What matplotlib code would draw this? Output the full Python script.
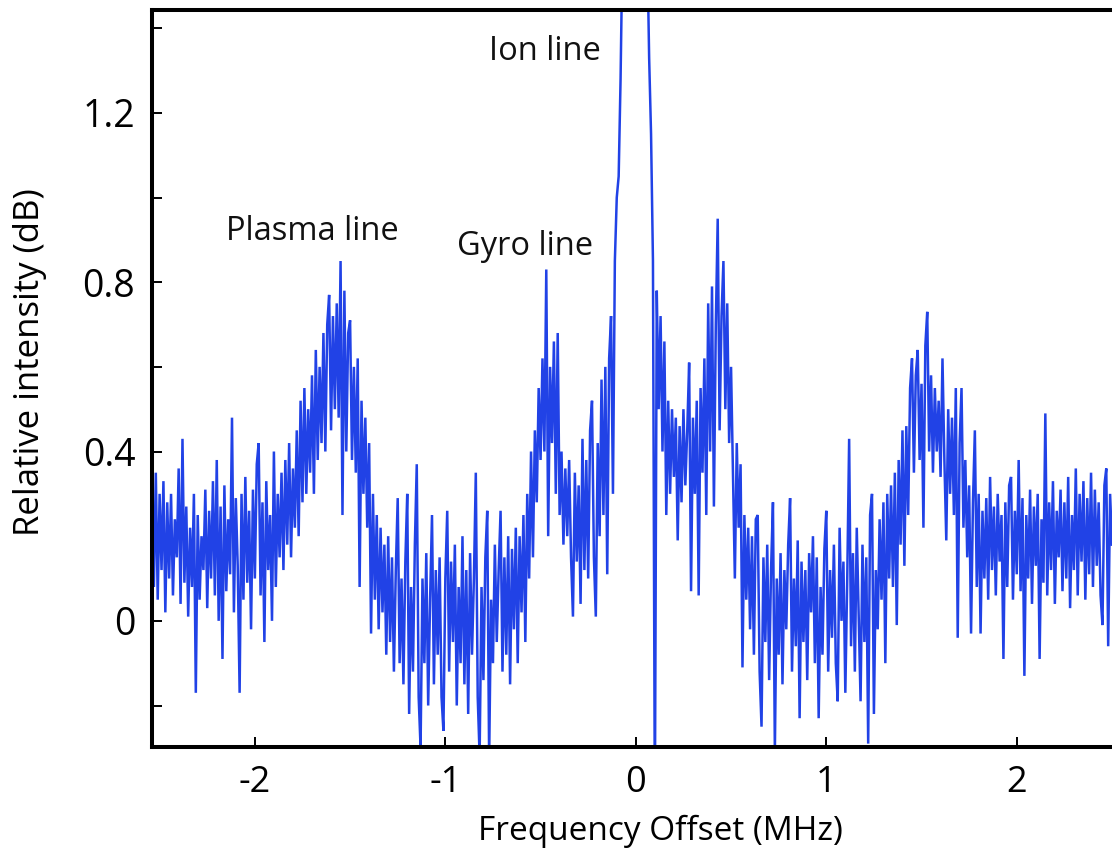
import numpy as np
import matplotlib
matplotlib.use("Agg")
import matplotlib.pyplot as plt

plt.rcParams['font.family'] = ['Open Sans', 'DejaVu Sans']

STEP = 0.01  # MHz sampling of the spectrum

# Relative intensity (dB), in segments; each segment starts at seg_start
seg_left_start = -2.54
seg_left = [0.32, 0.08, 0.35, 0.05, 0.30, 0.12, 0.33, 0.02, 0.28, 0.10,
            0.30, 0.06, 0.24, 0.15, 0.36, 0.04, 0.43, 0.09, 0.27, 0.01,
            0.22, 0.08, 0.30, -0.17, 0.25, 0.05, 0.20, 0.12, 0.31, 0.03,
            0.26, 0.10, 0.33, 0.06, 0.38, 0.00, 0.27, -0.09, 0.32, 0.07,
            0.24, 0.11, 0.48, 0.02, 0.29, 0.13, -0.17, 0.30, 0.05, 0.34,
            0.09, 0.26, -0.02, 0.31, 0.10, 0.37, 0.42, 0.06, 0.28, -0.05,
            0.33, 0.12, 0.25, 0.00, 0.40, 0.08, 0.30, 0.15, 0.35]

seg_plasma_neg_start = -1.85
seg_plasma_neg = [0.12, 0.38, 0.18, 0.42, 0.15, 0.36, 0.22, 0.45, 0.20, 0.52,
                  0.28, 0.55, 0.30, 0.50, 0.35, 0.58, 0.30, 0.64, 0.38, 0.60,
                  0.42, 0.68, 0.40, 0.70, 0.77, 0.45, 0.72, 0.50, 0.75, 0.48,
                  0.85, 0.25, 0.78, 0.40, 0.68, 0.71, 0.38, 0.60, 0.35, 0.62,
                  0.08, 0.52, 0.30, 0.48, 0.22, 0.42]

seg_trough_neg_start = -1.39
seg_trough_neg = [-0.03, 0.30, 0.05, 0.25, -0.02, 0.22, 0.02, 0.18, -0.08, 0.20,
                  -0.05, 0.15, -0.12, 0.12, 0.29, -0.10, 0.10, -0.15, 0.14, 0.30,
                  -0.22, 0.08, -0.12, 0.18, 0.37, -0.18, -0.30, 0.10, -0.10, 0.16,
                  -0.20, 0.05, 0.25, -0.15, 0.12, -0.08, 0.15, -0.18, -0.26, 0.10,
                  0.26, -0.12, 0.14, -0.05, 0.18, -0.20, 0.08, -0.10, 0.20, -0.15,
                  0.12, -0.22, 0.16, -0.08, 0.10, 0.35, -0.18, -0.32, 0.08, -0.14,
                  0.15, 0.26, -0.33, 0.05, -0.10, 0.18, -0.05, 0.12, 0.26, -0.12,
                  0.15, -0.08, 0.20, -0.15, 0.17, -0.02, 0.22, -0.10, 0.20, 0.02,
                  0.25, -0.05, 0.30, 0.10, 0.40]

seg_gyro_neg_start = -0.54
seg_gyro_neg = [0.15, 0.45, 0.28, 0.55, 0.38, 0.62, 0.40, 0.83, 0.20, 0.60,
                0.42, 0.66, 0.30, 0.68, 0.25, 0.40, 0.18, 0.36, 0.20, 0.38,
                0.15, 0.01, 0.35, 0.14, 0.32, 0.04, 0.43, 0.12, 0.38, 0.10,
                0.45, 0.52, 0.15, 0.01, 0.42, 0.20, 0.57, 0.25, 0.60, 0.11]

seg_ion_start = -0.14
seg_ion = [0.62, 0.72, 0.30, 0.85, 1.00, 1.05, 1.28, 1.60, 1.90, 2.20,
           2.40, 2.30, 2.10, 2.00, 2.00, 2.10, 2.30, 2.40, 2.20, 1.90,
           1.60, 1.33, 1.15, 0.85, -0.45]

seg_gyro_pos_start = 0.11
seg_gyro_pos = [0.78, 0.50, 0.72, 0.40, 0.66, 0.25, 0.52, 0.30, 0.50, 0.34,
                0.48, 0.19, 0.46, 0.28, 0.50, 0.32, 0.45, 0.61, 0.07, 0.48,
                0.30, 0.52, 0.06, 0.55, 0.35, 0.62, 0.25, 0.75, 0.40, 0.79,
                0.27, 0.70, 0.95, 0.45, 0.72, 0.85, 0.50, 0.75, 0.42, 0.60,
                0.35, 0.10, 0.42, 0.22, 0.37, -0.11, 0.25, 0.05, 0.22, -0.02]

seg_trough_pos_start = 0.61
seg_trough_pos = [0.20, -0.08, 0.24, 0.25, -0.12, -0.25, 0.15, -0.05, 0.18, -0.14,
                  0.12, 0.28, -0.31, 0.10, -0.08, 0.16, -0.15, 0.12, -0.02, 0.18,
                  0.29, -0.12, 0.10, -0.06, 0.19, -0.23, 0.14, -0.05, 0.12, -0.14,
                  0.16, 0.02, 0.20, -0.10, 0.15, -0.23, 0.08, -0.08, 0.17, 0.26,
                  -0.12, 0.12, -0.04, 0.18, -0.10, -0.19, 0.22, 0.00, 0.14, -0.17,
                  0.10, 0.43, -0.06, 0.16, -0.12, 0.22, 0.02, -0.19, 0.18, -0.05,
                  0.15, -0.29, 0.25, 0.30, -0.22, 0.12, -0.02, 0.24, 0.05, 0.28]

seg_plasma_pos_start = 1.31
seg_plasma_pos = [-0.10, 0.30, 0.10, 0.32, 0.08, 0.35, -0.01, 0.38, 0.18, 0.45,
                  0.13, 0.46, 0.25, 0.55, 0.62, 0.35, 0.58, 0.64, 0.38, 0.56,
                  0.22, 0.65, 0.73, 0.40, 0.58, 0.35, 0.55, 0.40, 0.52, 0.34,
                  0.62, 0.38, 0.19, 0.50, 0.30, 0.48, 0.25, 0.55, -0.04, 0.42,
                  0.55, 0.22, 0.38, 0.15, 0.32]

seg_right_start = 1.76
seg_right = [-0.03, 0.28, 0.45, 0.08, 0.30, -0.03, 0.26, 0.10, 0.29, 0.05,
             0.34, 0.12, 0.27, 0.06, 0.30, 0.14, 0.25, -0.09, 0.28, 0.08,
             0.32, 0.34, 0.05, 0.26, 0.11, 0.38, 0.07, 0.29, -0.13, 0.25,
             0.10, 0.31, 0.04, 0.27, 0.13, 0.30, -0.09, 0.24, 0.09, 0.49,
             0.06, 0.28, 0.12, 0.33, 0.04, 0.26, 0.15, 0.31, 0.07, 0.28,
             0.10, 0.34, 0.03, 0.25, 0.12, 0.36, 0.06, 0.30, 0.14, 0.33,
             0.05, 0.29, 0.11, 0.35, 0.08, 0.31, 0.13, 0.28, 0.06, -0.01,
             0.32, 0.36, -0.06, 0.30, 0.18]

segments = [(seg_left_start, seg_left), (seg_plasma_neg_start, seg_plasma_neg),
            (seg_trough_neg_start, seg_trough_neg), (seg_gyro_neg_start, seg_gyro_neg),
            (seg_ion_start, seg_ion), (seg_gyro_pos_start, seg_gyro_pos),
            (seg_trough_pos_start, seg_trough_pos), (seg_plasma_pos_start, seg_plasma_pos),
            (seg_right_start, seg_right)]

freq = np.concatenate([s + STEP * np.arange(len(v)) for s, v in segments])
intensity = np.concatenate([np.asarray(v, dtype=float) for _, v in segments])

x_ticks = [-2, -1, 0, 1, 2]
x_tick_labels = ['-2', '-1', '0', '1', '2']
y_ticks = [0.0, 0.4, 0.8, 1.2]
y_tick_labels = ['0', '0.4', '0.8', '1.2']
y_minor_ticks = [-0.2, 0.2, 0.6, 1.0, 1.4]

annotations = [("Ion line", -0.478, 1.344),
               ("Plasma line", -1.70, 0.919),
               ("Gyro line", -0.583, 0.884)]

W, H = 1112, 855
fig = plt.figure(figsize=(W / 100, H / 100), dpi=100)
left_px, right_px, top_px, bottom_px = 152, 1112, 10, 747
ax = fig.add_axes([left_px / W, 1 - bottom_px / H, (right_px - left_px) / W, (bottom_px - top_px) / H])

ax.plot(freq, intensity, color='#2142e6', lw=1.8, solid_joinstyle='miter')

ax.set_xlim(-2.54, 2.50)
ax.set_ylim(-0.298, 1.443)

ax.set_xticks(x_ticks)
ax.set_xticklabels(x_tick_labels)
ax.set_yticks(y_ticks)
ax.set_yticklabels(y_tick_labels)
ax.set_yticks(y_minor_ticks, minor=True)

ax.tick_params(axis='both', which='both', direction='in', length=7, width=1.4, color='black')
ax.tick_params(axis='y', which='major', labelsize=27, pad=12)
ax.tick_params(axis='x', which='major', labelsize=26, pad=13)
ax.tick_params(top=False, right=False)

for side in ['left', 'bottom', 'top']:
    ax.spines[side].set_linewidth(2.9)
    ax.spines[side].set_color('black')
ax.spines['right'].set_visible(False)

for txt, xv, yv in annotations:
    ax.text(xv, yv, txt, fontsize=23.5, ha='center', va='center', color='#111111')

ax.set_xlabel('Frequency Offset (MHz)', fontsize=24, va='center', ha='center')
ax.xaxis.set_label_coords(0.530, -0.115)
ax.set_ylabel('Relative intensity (dB)', fontsize=25, va='center', ha='center')
ax.yaxis.set_label_coords(-0.127, 0.522)

fig.savefig('out.png', dpi=100)
